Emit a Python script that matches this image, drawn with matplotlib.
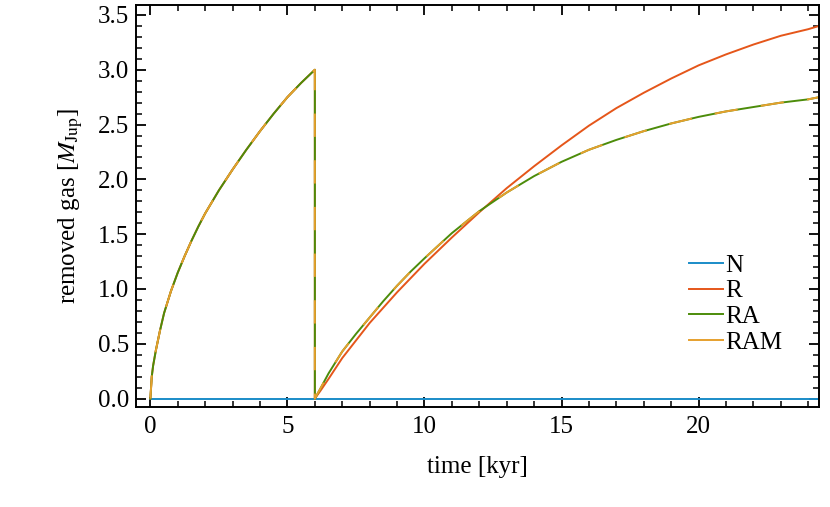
import matplotlib
matplotlib.use('Agg')
import matplotlib.pyplot as plt
from matplotlib.lines import Line2D
from matplotlib.ticker import MultipleLocator, FormatStrFormatter

# datos (antes del reinicio en t = 6 kyr, iguales para R, RA, RAM)
t_pre = [0.0, 0.05, 0.1, 0.2, 0.35, 0.5, 0.75, 1.0, 1.25, 1.5, 1.75, 2.0, 2.5, 3.0,
         3.5, 4.0, 4.5, 5.0, 5.5, 6.0]
y_pre = [0.0, 0.2, 0.3, 0.44, 0.62, 0.78, 0.98, 1.15, 1.3, 1.44, 1.57, 1.69, 1.9, 2.09,
         2.27, 2.44, 2.6, 2.75, 2.88, 3.0]

# despues del reinicio
t_r = [6.0, 6.2, 6.5, 7.0, 7.5, 8.0, 8.5, 9.0, 9.5, 10.0, 11.0, 12.0, 13.0, 14.0,
       15.0, 16.0, 17.0, 18.0, 19.0, 20.0, 21.0, 22.0, 23.0, 24.0, 24.4]
r_post = [0.0, 0.07, 0.18, 0.37, 0.53, 0.69, 0.83, 0.97, 1.1, 1.23, 1.47, 1.70,
          1.92, 2.12, 2.31, 2.49, 2.65, 2.79, 2.92, 3.04, 3.14, 3.23, 3.31, 3.37, 3.40]

t_ra = [6.0, 6.2, 6.5, 7.0, 7.5, 8.0, 8.5, 9.0, 9.5, 10.0, 11.0, 12.0, 13.0, 14.0,
        15.0, 16.0, 17.0, 18.0, 19.0, 20.0, 21.0, 22.0, 23.0, 24.0, 24.4]
ra_post = [0.0, 0.09, 0.23, 0.43, 0.59, 0.74, 0.89, 1.03, 1.16, 1.28, 1.51, 1.71,
           1.88, 2.03, 2.16, 2.27, 2.36, 2.44, 2.51, 2.57, 2.62, 2.66, 2.70, 2.73, 2.75]

t_n = [0.0, 24.4]
y_n = [0.0, 0.0]

series_names = ['N', 'R', 'RA', 'RAM']
colores = ['#1a8cc8', '#e5561a', '#4c8c0a', '#e6a02e']

t_r_all = t_pre + t_r
r_all = y_pre + r_post
t_ra_all = t_pre + t_ra
ra_all = y_pre + ra_post

plt.rcParams['font.family'] = ['Liberation Serif', 'DejaVu Serif']
plt.rcParams['mathtext.fontset'] = 'stix'

fig = plt.figure(figsize=(8.3, 5.07), dpi=100)
ax = fig.add_axes([0.164, 0.198, 0.823, 0.792])

lw = 1.4
ax.plot(t_n, y_n, color=colores[0], lw=lw)
ax.plot(t_r_all, r_all, color=colores[1], lw=lw)
ax.plot(t_ra_all, ra_all, color=colores[2], lw=lw)
ax.plot(t_ra_all, ra_all, color=colores[3], lw=lw, dashes=(12, 12))

ax.set_xlim(-0.52, 24.4)
ax.set_ylim(-0.073, 3.59)

ax.xaxis.set_major_locator(MultipleLocator(5))
ax.xaxis.set_minor_locator(MultipleLocator(1))
ax.yaxis.set_major_locator(MultipleLocator(0.5))
ax.yaxis.set_minor_locator(MultipleLocator(0.1))
ax.yaxis.set_major_formatter(FormatStrFormatter('%.1f'))

ax.tick_params(which='both', direction='in', top=True, right=True, labelsize=18)
ax.tick_params(which='major', length=7, width=1.3)
ax.tick_params(axis='x', which='major', pad=7)
ax.tick_params(axis='y', which='major', pad=5)
ax.tick_params(which='minor', length=4, width=1.1)
for s in ax.spines.values():
    s.set_linewidth(1.4)

ax.set_xlabel('time [kyr]', fontsize=18, labelpad=13)
ax.set_ylabel(r'removed gas [$M_{\rm Jup}$]', fontsize=18, labelpad=9)

handles = [Line2D([0], [0], color=c, lw=lw) for c in colores]
ax.legend(handles, series_names, loc='upper left', bbox_to_anchor=(0.81, 0.38),
          frameon=False, fontsize=18, handlelength=1.36, handletextpad=0.08,
          labelspacing=0.13, borderpad=0, borderaxespad=0)

fig.savefig('out.png', dpi=100)
